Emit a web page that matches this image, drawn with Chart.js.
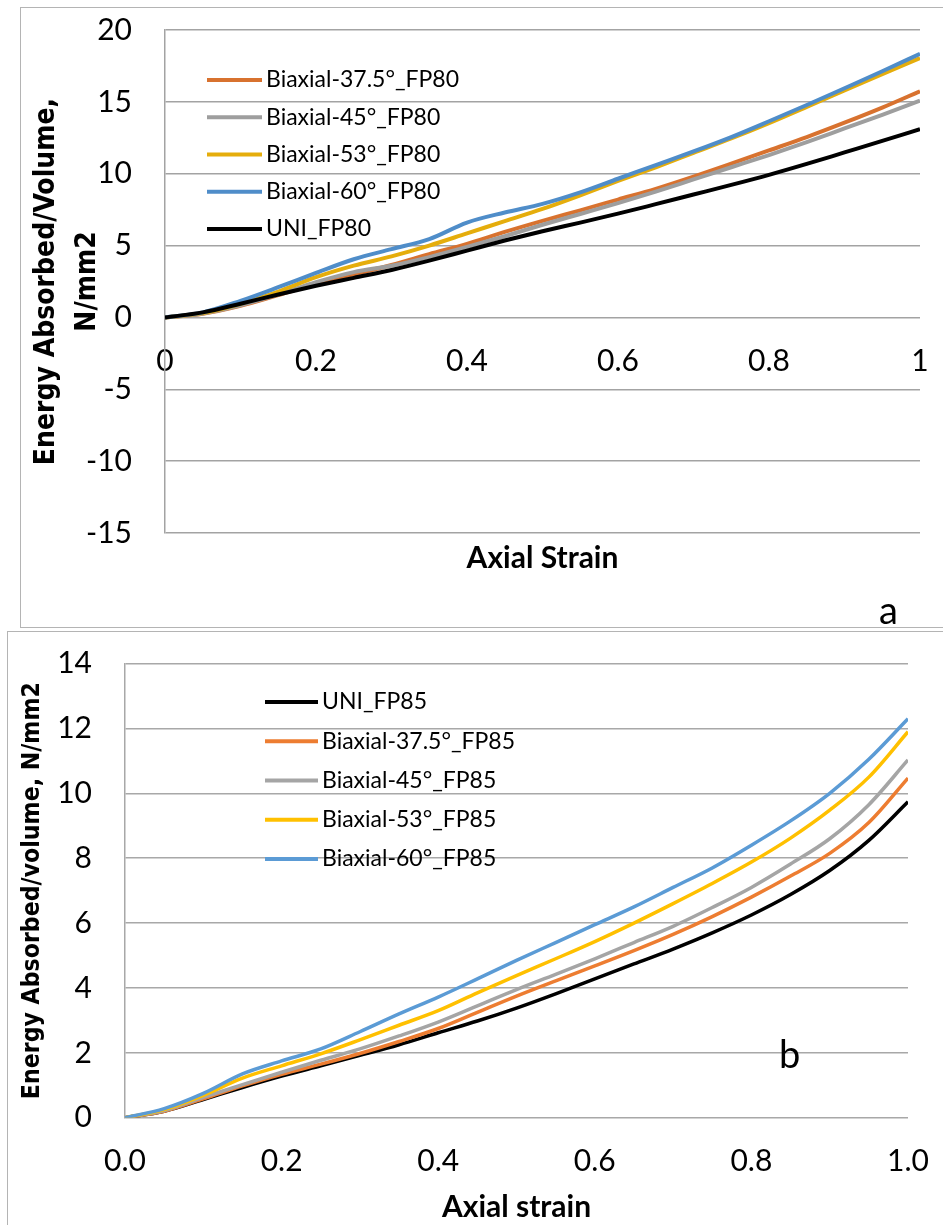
<!DOCTYPE html>
<html><head><meta charset="utf-8">
<script src="https://cdn.jsdelivr.net/npm/chart.js@4.4.0/dist/chart.umd.min.js"></script>
<style>
html,body{margin:0;padding:0;background:#fff;width:943px;height:1225px;overflow:hidden;position:relative}
#boxA{position:absolute;left:20px;top:7px;width:940px;height:621px;border:1px solid #b4b4b4;box-sizing:border-box}
#boxB{position:absolute;left:7px;top:631px;width:960px;height:620px;border:1px solid #b4b4b4;box-sizing:border-box}
canvas{position:absolute;left:0}
#cA{top:0}
#cB{top:632px}
</style></head>
<body>
<div id="boxA"></div><div id="boxB"></div>
<canvas id="cA" width="943" height="628"></canvas>
<canvas id="cB" width="943" height="593"></canvas>
<script>
// ---------- Data: panel a (FP80) ----------
const strainA = [0,0.05,0.1,0.15,0.2,0.25,0.3,0.35,0.4,0.45,0.5,0.55,0.6,0.65,0.7,0.75,0.8,0.85,0.9,0.95,1.0];
const b375A = [0,0.25,0.8,1.55,2.35,3.0,3.65,4.4,5.12,5.95,6.72,7.45,8.2,8.95,9.8,10.7,11.62,12.55,13.55,14.6,15.74];
const b45A  = [0,0.28,0.85,1.6,2.45,3.15,3.6,4.2,4.9,5.65,6.45,7.2,7.95,8.75,9.6,10.45,11.3,12.2,13.15,14.1,15.08];
const b53A  = [0,0.3,0.95,1.8,2.8,3.6,4.25,5.0,5.85,6.7,7.55,8.5,9.5,10.45,11.45,12.45,13.52,14.65,15.8,16.92,18.05];
const b60A  = [0,0.35,1.15,2.1,3.1,4.05,4.75,5.45,6.6,7.3,7.9,8.7,9.65,10.6,11.55,12.55,13.65,14.78,15.95,17.13,18.35];
const uniA  = [0,0.35,0.95,1.6,2.2,2.75,3.3,3.95,4.65,5.35,6.0,6.6,7.22,7.88,8.55,9.22,9.92,10.68,11.48,12.28,13.1];
const labelsA = ['Biaxial-37.5°_FP80','Biaxial-45°_FP80','Biaxial-53°_FP80','Biaxial-60°_FP80','UNI_FP80'];
const xTicksA = ['0','0.2','0.4','0.6','0.8','1'];
const xTitleA = 'Axial Strain';
const yTitleA = ['Energy Absorbed/Volume,','N/mm2'];

// ---------- Data: panel b (FP85) ----------
const strainB = [0,0.05,0.1,0.15,0.2,0.25,0.3,0.35,0.4,0.45,0.5,0.55,0.6,0.65,0.7,0.75,0.8,0.85,0.9,0.95,1.0];
const uniB  = [0,0.2,0.56,0.93,1.28,1.6,1.92,2.25,2.62,2.98,3.38,3.82,4.28,4.74,5.2,5.7,6.25,6.88,7.62,8.55,9.74];
const b375B = [0,0.2,0.58,0.98,1.34,1.65,1.98,2.35,2.75,3.25,3.75,4.22,4.68,5.15,5.65,6.2,6.8,7.45,8.15,9.1,10.47];
const b45B  = [0,0.22,0.63,1.02,1.4,1.77,2.12,2.52,2.95,3.45,3.95,4.42,4.9,5.4,5.9,6.48,7.1,7.82,8.6,9.65,11.03];
const b53B  = [0,0.25,0.69,1.22,1.6,1.97,2.4,2.85,3.3,3.85,4.38,4.9,5.43,6.0,6.6,7.22,7.88,8.62,9.48,10.5,11.9];
const b60B  = [0,0.28,0.75,1.35,1.75,2.12,2.65,3.2,3.72,4.28,4.85,5.4,5.95,6.5,7.1,7.7,8.4,9.15,10.0,11.05,12.3];
const labelsB = ['UNI_FP85','Biaxial-37.5°_FP85','Biaxial-45°_FP85','Biaxial-53°_FP85','Biaxial-60°_FP85'];
const xTicksB = ['0.0','0.2','0.4','0.6','0.8','1.0'];
const xTitleB = 'Axial strain';
const yTitleB = 'Energy Absorbed/volume, N/mm2';

// ---------- helpers ----------
const pts = (xs, ys) => xs.map((x, i) => ({x: x, y: ys[i]}));
const TICK_FONT = {family: 'Lato', size: 30, lineHeight: 1.2};
const TITLE_FONT = {family: 'Lato', size: 30, weight: 'bold', lineHeight: 1.2};
const YT_FAMILY = "'DejaVu Sans Condensed', 'DejaVu Sans', sans-serif";

function fixBox(w, h) {
  return function (s) {
    if (w !== null) s.width = w;
    if (h !== null) s.height = h;
    s.paddingLeft = 0; s.paddingRight = 0; s.paddingTop = 0; s.paddingBottom = 0;
  };
}

const inlineLegend = {
  id: 'inlineLegend',
  afterDraw(chart, args, o) {
    const ctx = chart.ctx;
    ctx.save();
    ctx.font = o.font;
    ctx.textBaseline = 'middle';
    ctx.textAlign = 'left';
    o.order.forEach((di, i) => {
      const ds = chart.data.datasets[di];
      const y = o.y0 + i * o.dy;
      ctx.strokeStyle = ds.borderColor;
      ctx.lineWidth = o.lineWidth;
      ctx.lineCap = 'butt';
      ctx.beginPath(); ctx.moveTo(o.x0, y); ctx.lineTo(o.x1, y); ctx.stroke();
      ctx.fillStyle = '#000';
      ctx.fillText(ds.label, o.tx, y);
    });
    ctx.font = o.letterFont;
    ctx.textBaseline = 'alphabetic';
    ctx.fillText(o.letter, o.lx, o.ly);
    ctx.restore();
  }
};
Chart.register(inlineLegend);

function lineDs(label, xs, ys, color, order, w) {
  return {label, data: pts(xs, ys), borderColor: color, backgroundColor: color, borderWidth: w,
          pointRadius: 0, fill: false, cubicInterpolationMode: 'monotone', order};
}

// ---------- panel a ----------
new Chart(document.getElementById('cA'), {
  type: 'line',
  data: {datasets: [
    lineDs(labelsA[0], strainA, b375A, '#D8722F', 4, 4),
    lineDs(labelsA[1], strainA, b45A,  '#9E9E9E', 3, 4),
    lineDs(labelsA[2], strainA, b53A,  '#E5AD0C', 2, 4),
    lineDs(labelsA[3], strainA, b60A,  '#4F8DC9', 1, 4),
    lineDs(labelsA[4], strainA, uniA,  '#000000', 0, 4)
  ]},
  options: {
    responsive: false, animation: false, devicePixelRatio: 1,
    layout: {padding: {left: 0, top: 30, right: 23, bottom: 0}},
    plugins: {legend: {display: false}, tooltip: {enabled: false},
      inlineLegend: {order: [0,1,2,3,4], x0: 207, x1: 262, tx: 266, y0: 80, dy: 37.25, lineWidth: 4,
        font: '23px Lato', letter: 'a', letterFont: '38px Lato', lx: 879, ly: 624}},
    scales: {
      x: {type: 'linear', axis: 'x', position: 'bottom', min: 0, max: 1,
          ticks: {display: false}, grid: {display: false, drawTicks: false}, border: {display: false},
          title: {display: true, text: xTitleA, color: '#000', font: TITLE_FONT, padding: {top: 0, bottom: 52}},
          afterFit: fixBox(null, 95)},
      x2: {type: 'linear', axis: 'x', position: {y: 0}, min: 0, max: 1,
          ticks: {stepSize: 0.2, padding: 26, color: '#000', font: TICK_FONT, maxRotation: 0, autoSkip: false,
                  callback: (v, i) => xTicksA[i]},
          grid: {display: false, drawTicks: false}, border: {display: false},
          afterFit: fixBox(null, 0)},
      y: {type: 'linear', min: -15, max: 20,
          ticks: {stepSize: 5, padding: 33, color: '#000', font: TICK_FONT},
          grid: {color: '#a3a3a3', lineWidth: 1.5, drawTicks: false},
          border: {display: true, color: '#a3a3a3', width: 1.5},
          title: {display: true, text: yTitleA, color: '#000',
                  font: {family: YT_FAMILY, size: 28, weight: 'bold', lineHeight: 1.464}, padding: {top: 26, bottom: 0}},
          afterFit: fixBox(165, null)}
    }
  }
});

// ---------- panel b ----------
new Chart(document.getElementById('cB'), {
  type: 'line',
  data: {datasets: [
    lineDs(labelsB[0], strainB, uniB,  '#000000', 4, 3.5),
    lineDs(labelsB[1], strainB, b375B, '#ED7D31', 3, 3.5),
    lineDs(labelsB[2], strainB, b45B,  '#A5A5A5', 2, 3.5),
    lineDs(labelsB[3], strainB, b53B,  '#FFC000', 1, 3.5),
    lineDs(labelsB[4], strainB, b60B,  '#5B9BD5', 0, 3.5)
  ]},
  options: {
    responsive: false, animation: false, devicePixelRatio: 1,
    layout: {padding: {left: 0, top: 31.6, right: 35, bottom: 0}},
    plugins: {legend: {display: false}, tooltip: {enabled: false},
      inlineLegend: {order: [0,1,2,3,4], x0: 265, x1: 318, tx: 322, y0: 70, dy: 39.25, lineWidth: 4,
        font: '23px Lato', letter: 'b', letterFont: '38px Lato', lx: 779, ly: 435.5}},
    scales: {
      x: {type: 'linear', position: 'bottom', min: 0, max: 1,
          ticks: {stepSize: 0.2, padding: 26, color: '#000', font: TICK_FONT, maxRotation: 0, autoSkip: false,
                  callback: (v, i) => xTicksB[i]},
          grid: {display: false, drawTicks: false}, border: {display: false},
          title: {display: true, text: xTitleB, color: '#000', font: TITLE_FONT, padding: {top: 0, bottom: 0}},
          afterFit: fixBox(null, 107.3)},
      y: {type: 'linear', min: 0, max: 14,
          ticks: {stepSize: 2, padding: 33, color: '#000', font: TICK_FONT},
          grid: {color: '#a8a8a8', lineWidth: 1.5, drawTicks: false},
          border: {display: true, color: '#a8a8a8', width: 1.5},
          title: {display: true, text: yTitleB, color: '#000',
                  font: {family: YT_FAMILY, size: 24.6, weight: 'bold', lineHeight: 1.2}, padding: {top: 18, bottom: 0}},
          afterFit: fixBox(125, null)}
    }
  }
});
</script>
</body></html>
